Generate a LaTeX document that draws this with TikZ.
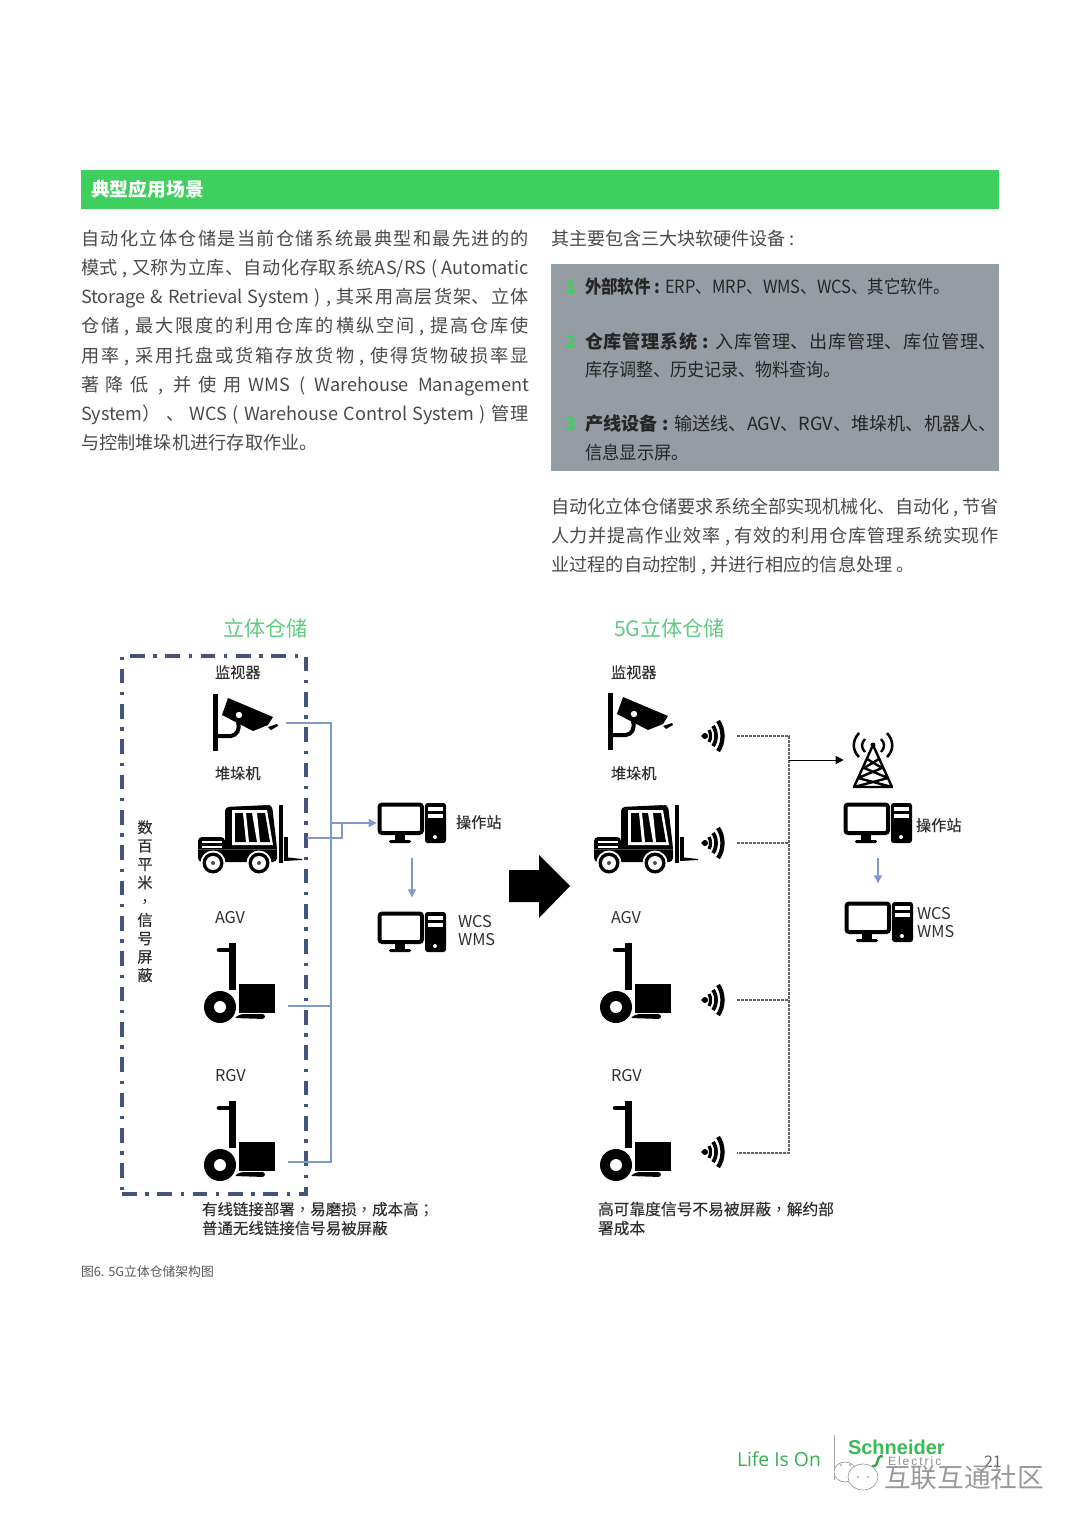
\documentclass[tikz,border=0pt]{standalone}
\usepackage{fontspec}
\usepackage{graphicx}
\usetikzlibrary{arrows.meta}
\setmainfont{Noto Sans CJK SC}
\newfontfamily\lsans{Liberation Sans}
\newfontfamily\osans{Open Sans}
\newfontfamily\tcf{Noto Sans CJK TC}
\newfontfamily\medf[FakeBold=0.25]{Noto Sans CJK SC}
\definecolor{segreen}{HTML}{3ECF5E}
\definecolor{ttlgreen}{HTML}{62CC82}
\definecolor{boxgray}{HTML}{959CA3}
\definecolor{bodytxt}{HTML}{4A4A4A}
\definecolor{lbltxt}{HTML}{303030}
\definecolor{navyd}{HTML}{44547F}
\definecolor{wireblue}{HTML}{7F9ACA}
\XeTeXlinebreaklocale "zh"
\XeTeXlinebreakskip=0pt plus 2pt minus .4pt
\tolerance=9999 \hbadness=10000 \hfuzz=5pt \hyphenpenalty=10000 \exhyphenpenalty=10000
\newlength{\jlw}
\newsavebox{\jlbox}
\newcommand{\jl}[2]{\setlength{\jlw}{#1\dimexpr.75pt\relax}\sbox{\jlbox}{#2}%
 \ifdim\wd\jlbox>\jlw\resizebox{\jlw}{\height}{\usebox{\jlbox}}\else\parbox[t]{\jlw}{\parindent0pt\parfillskip0pt\leavevmode #2}\fi}
\tikzset{
 x=.75pt,y=-.75pt,
 txt/.style={anchor=base west,inner sep=0pt,outer sep=0pt},
 bodyt/.style={txt,text=bodytxt,font=\fontsize{13.6pt}{16pt}\selectfont},
 boxt/.style={txt,text=black!85,font=\fontsize{13.6pt}{16pt}\selectfont},
 numt/.style={txt,text=segreen,font=\fontsize{13.6pt}{16pt}\selectfont\bfseries},
 lbl/.style={txt,text=lbltxt,font=\medf\fontsize{11.4pt}{13pt}\selectfont},
 lat/.style={txt,text=lbltxt,font=\fontsize{12.2pt}{13pt}\selectfont},
 note/.style={txt,text=lbltxt,font=\medf\fontsize{11.6pt}{13pt}\selectfont},
 ttl/.style={txt,text=ttlgreen,font=\fontsize{15.9pt}{18pt}\selectfont},
 iconbox/.style={inner sep=0pt,outer sep=0pt,minimum width=#1},
 wire/.style={wireblue,line width=.8pt},
 dashw/.style={black!60,line width=.8pt,dash pattern=on 2pt off 1pt},
 tipb/.style={-{Triangle[length=6pt,width=6pt]}},
 camicon/.pic={
  \fill[black] (0,0) rectangle (5,57);
  \draw[black,line width=3pt] (3,42) -- (18,42) .. controls (24,41) and (27,36) .. (25,28);
  \fill[black] (15,4) -- (60,23) -- (55,31) -- (40,37) -- (9,21) -- cycle;
  \fill[white] (26,21) circle (3.2);
  \fill[black] (55,33) -- (64,30) -- (65,32) -- (58,36) -- cycle;
 },
 truckicon/.pic={
  \fill[black,rounded corners=3pt] (27,42) -- (27,8) -- (70,0) -- (74,0) -- (79,43) -- (79,57) -- (0,57) -- (0,32) -- (27,32) -- cycle;
  \fill[black,rounded corners=3pt] (27,45) -- (27,2) -- (71,0) -- (78,45) -- cycle;
  \fill[white] (34,5) -- (69,5) -- (75,40) -- (34,40) -- cycle;
  \fill[black] (37,8) -- (67,8) -- (72,37) -- (37,37) -- cycle;
  \fill[white] (45,8) -- (48,8) -- (51,37) -- (48,37) -- cycle;
  \fill[white] (54,8) -- (59,8) -- (62,37) -- (59,37) -- cycle;
  \fill[white] (4,36) rectangle (24,37.5);
  \fill[white] (4,41) rectangle (24,42.5);
  \fill[black!70] (0,44) rectangle (79,45);
  \foreach \wx in {15,61}{
   \fill[white] (\wx,58) circle (12.5);
   \fill[black] (\wx,58) circle (10.5);
   \fill[white] (\wx,58) circle (7);
   \fill[black!70] (\wx,58) circle (2);
  }
  \fill[black] (81,0) rectangle (85,58);
  \fill[black] (86,32) rectangle (90,53);
  \fill[black] (86,52) -- (104,54) -- (104,55) -- (86,56) -- cycle;
 },
 carticon/.pic={
  \fill[black] (12,0) rectangle (19,47);
  \draw[black,line width=3.4pt,line cap=round] (2,7) -- (14,7);
  \fill[black] (3,64) circle (16);
  \fill[white] (3,64) circle (6);
  \fill[black] (22,41) rectangle (58,70);
  \fill[black,rounded corners=2pt] (17,75) -- (24,71) -- (48,71) -- (48,76) -- cycle;
 },
 pcicon/.pic={
  \draw[black,line width=3pt,rounded corners=2pt] (1.5,1.5) rectangle (44,30);
  \fill[black] (17,31) rectangle (27,37);
  \fill[black,rounded corners=1pt] (11,37) rectangle (33,40);
  \fill[black,rounded corners=2pt] (47,0) rectangle (68,40);
  \fill[white] (50,4) rectangle (65,7.5);
  \fill[white] (50,11) rectangle (65,14.5);
  \fill[white] (57,34) circle (2);
 },
 wifiicon/.pic={
  \fill[black] (-1,0) circle (3) ;
  \fill[black] (-5,0) -- (-1,-3) -- (-1,3) -- cycle;
  \draw[black,line width=2.4pt] (3,-6) .. controls (5,-3) and (5,3) .. (3,6);
  \draw[black,line width=2.8pt] (7,-10) .. controls (11,-5) and (11,5) .. (7,10);
  \draw[black,line width=3.2pt] (12,-15) .. controls (18,-7) and (18,7) .. (12,15);
 },
 towericon/.pic={
  \fill[black] (0,0) circle (2.5);
  \draw[black,line width=1.8pt,line join=round]
    (0,0) -- (-19,42) -- (19,42) -- (0,0)
    (-6,14) -- (9,23) -- (-15,33) (6,14) -- (-9,23) -- (15,33)
    (-15,33) -- (19,42) (15,33) -- (-19,42);
  \draw[black,line width=1.8pt] (-8,-6) .. controls (-12,-2) and (-12,3) .. (-8,7)
    (8,-6) .. controls (12,-2) and (12,3) .. (8,7);
  \draw[black,line width=1.9pt] (-14,-12) .. controls (-21,-4) and (-21,5) .. (-14,12)
    (14,-12) .. controls (21,-4) and (21,5) .. (14,12);
 },
}
\begin{document}
\begin{tikzpicture}
\useasboundingbox[fill=white] (0,0) rectangle (1080,1526);
% header
\node[fill=segreen,draw=none,inner sep=0pt,outer sep=0pt,minimum width=688.5pt,minimum height=29.25pt,anchor=north west] (hdr) at (81,170) {};
\node[txt,text=white,font=\fontsize{14.1pt}{16pt}\selectfont\bfseries] (hdrt) at (91,197) {典型应用场景};
% left column
\node[bodyt] (l1) at (81,246) {\jl{448}{自动化立体仓储是当前仓储系统最典型和最先进的的}};
\node[bodyt] (l2) at (81,275) {\jl{448}{模式 , 又称为立库、自动化存取系统AS/RS ( Automatic}};
\node[bodyt] (l3) at (81,304) {\jl{448}{Storage \& Retrieval System ) , 其采用高层货架、立体}};
\node[bodyt] (l4) at (81,333) {\jl{448}{仓储 , 最大限度的利用仓库的横纵空间 , 提高仓库使}};
\node[bodyt] (l5) at (81,362) {\jl{448}{用率 , 采用托盘或货箱存放货物 , 使得货物破损率显}};
\node[bodyt] (l6) at (81,391) {\jl{448}{著降低 , 并使用WMS ( Warehouse Management}};
\node[bodyt] (l7) at (81,420) {\jl{448}{System） 、 WCS ( Warehouse Control System ) 管理}};
\node[bodyt] (l8) at (81,449) {\jl{237}{与控制堆垛机进行存取作业。}};
% right column
\node[bodyt] (r0) at (551,246) {\jl{244}{其主要包含三大块软硬件设备 :}};
\node[fill=boxgray,inner sep=0pt,outer sep=0pt,minimum width=336pt,minimum height=155.25pt,anchor=north west] (gbox) at (551,264) {};
\node[numt] (n1) at (565,294) {1};
\node[boxt] (b1) at (585,294) {\jl{365}{\textbf{外部软件 :} ERP、MRP、WMS、WCS、其它软件。}};
\node[numt] (n2) at (565,348) {2};
\node[boxt] (b2) at (585,348) {\jl{412}{\textbf{仓库管理系统 :} 入库管理、出库管理、库位管理、}};
\node[boxt] (b3) at (585,377) {\jl{256}{库存调整、历史记录、物料查询。}};
\node[numt] (n3) at (565,430) {3};
\node[boxt] (b4) at (585,430) {\jl{412}{\textbf{产线设备 :} 输送线、AGV、RGV、堆垛机、机器人、}};
\node[boxt] (b5) at (585,459) {\jl{104}{信息显示屏。}};
\node[bodyt] (r1) at (551,513) {\jl{448}{自动化立体仓储要求系统全部实现机械化、自动化 , 节省}};
\node[bodyt] (r2) at (551,542) {\jl{448}{人力并提高作业效率 , 有效的利用仓库管理系统实现作}};
\node[bodyt] (r3) at (551,571) {\jl{364}{业过程的自动控制 , 并进行相应的信息处理 。}};
% titles
\node[ttl] (t1) at (223,636) {立体仓储};
\node[ttl] (t2) at (614,636) {5G立体仓储};
% dashed frame
\node[draw=navyd,line width=2.8pt,dash pattern=on 11pt off 6.5pt on 2.5pt off 6.5pt,inner sep=0pt,outer sep=0pt,anchor=north west,minimum width=138pt,minimum height=403.5pt] (frame) at (122,656) {};
% left icons
\pic (lcam) at (213,694) {camicon};
\pic (ltruck) at (198,805) {truckicon};
\pic (lagv) at (217,943) {carticon};
\pic (lrgv) at (217,1101) {carticon};
\node[iconbox=51pt,minimum height=30pt] (pc1) at (412,823) {};
\pic (pca) at (378,803) {pcicon};
\node[iconbox=51pt,minimum height=30pt] (pc2) at (412,932) {};
\pic (pcb) at (378,912) {pcicon};
% left labels
\node[lbl] (a1) at (215,678) {监视器};
\node[lbl] (a2) at (215,779) {堆垛机};
\node[lat] (a3) at (215,923) {AGV};
\node[lat] (a4) at (215,1081) {RGV};
\node[lbl] (a5) at (456,828) {操作站};
\node[lat] (a6) at (458,927) {WCS};
\node[lat] (a7) at (458,945) {WMS};
\node[anchor=north,inner sep=0pt,text=lbltxt,font=\medf\fontsize{11.4pt}{13.8pt}\selectfont,align=center] (vert) at (145,820) {数\\百\\平\\米\\[1pt]{\tcf ，}\\[-.5pt]信\\号\\屏\\蔽};
\node[note] (nl1) at (202,1215) {有线链接部署{\tcf ，}易磨损{\tcf ，}成本高{\tcf ；}};
\node[note] (nl2) at (202,1234) {普通无线链接信号易被屏蔽};
% left wires
\coordinate (camL) at (286,723);
\coordinate (busT) at (331,723);
\coordinate (busB) at (331,1162);
\coordinate (rgvL) at (288,1162);
\coordinate (agvL) at (288,1006);
\coordinate (agvB) at (331,1006);
\coordinate (trkL) at (307,838);
\coordinate (trkC) at (342,838);
\coordinate (trkT) at (342,823);
\coordinate (busM) at (331,823);
\draw[wire] (camL) -- (busT) -- (busB) -- (rgvL);
\draw[wire] (agvL) -- (agvB);
\draw[wire] (trkL) -- (trkC) -- (trkT);
\draw[wire,tipb] (busM) -- ([xshift=-1pt]pc1.west);
\draw[wire,tipb,shorten >=11pt,shorten <=11pt] (pc1.south) -- (pc2.north);
% big arrow
\node[inner sep=0pt] (bigarrow) at (539,886) {};
\fill[black] (509,870) -- (539,870) -- (539,855) -- (570,886) -- (539,918) -- (539,902) -- (509,902) -- cycle;
% right icons
\pic (rcam) at (608,693) {camicon};
\pic (rtruck) at (594,805) {truckicon};
\pic (ragv) at (613,943) {carticon};
\pic (rrgv) at (613,1101) {carticon};
\pic (w1) at (706,736) {wifiicon};
\pic (w2) at (706,843) {wifiicon};
\pic (w3) at (706,1000) {wifiicon};
\pic (w4) at (706,1152) {wifiicon};
\node[iconbox=30pt,minimum height=40pt] (tw) at (873,760) {};
\pic (twr) at (873,745) {towericon};
\node[iconbox=51pt,minimum height=30pt] (pc3) at (878,823) {};
\pic (pcc) at (844,803) {pcicon};
\node[iconbox=51pt,minimum height=30pt] (pc4) at (879,922) {};
\pic (pcd) at (845,902) {pcicon};
% right labels
\node[lbl] (c1) at (611,678) {监视器};
\node[lbl] (c2) at (611,779) {堆垛机};
\node[lat] (c3) at (611,923) {AGV};
\node[lat] (c4) at (611,1081) {RGV};
\node[lbl] (c5) at (916,831) {操作站};
\node[lat] (c6) at (917,919) {WCS};
\node[lat] (c7) at (917,937) {WMS};
\node[note,font=\medf\fontsize{11.8pt}{13pt}\selectfont] (nr1) at (598,1215) {高可靠度信号不易被屏蔽{\tcf ，}解约部};
\node[note,font=\medf\fontsize{11.8pt}{13pt}\selectfont] (nr2) at (598,1234) {署成本};
% right wires
\coordinate (d1) at (737,736);
\coordinate (d2) at (737,843);
\coordinate (d3) at (737,1000);
\coordinate (d4) at (737,1153);
\coordinate (e1) at (789,736);
\coordinate (e2) at (789,843);
\coordinate (e3) at (789,1000);
\coordinate (e4) at (789,1153);
\coordinate (e5) at (789,760);
\draw[dashw] (d1) -- (e1) -- (e4) -- (d4);
\draw[dashw] (d2) -- (e2);
\draw[dashw] (d3) -- (e3);
\draw[black,line width=.7pt,tipb,shorten >=7pt] (e5) -- (tw.west);
\draw[wire,tipb,shorten >=14pt,shorten <=11pt] (pc3.south) -- (pc3.south |- pc4.north);
% caption
\node[txt,text=black!65,font=\fontsize{9.6pt}{11pt}\selectfont] (cap) at (81,1276) {图6. 5G立体仓储架构图};
% footer
\node[txt,text=segreen!85!black,font=\osans\fontsize{14.5pt}{17pt}\selectfont] (life) at (737,1466) {Life Is On};
\draw[black!35,line width=.5pt] (834,1435) -- (834,1480);
\node[txt,text=segreen!90!black,font=\lsans\fontsize{15pt}{17pt}\selectfont\bfseries] (sch) at (848,1454) {Schneider};
\draw[segreen!80!black,line width=1.8pt] (872,1466) .. controls (881,1467) and (874,1456) .. (883,1456);
\node[txt,text=black!45,font=\lsans\fontsize{9pt}{10pt}\selectfont] (elec) at (888,1465) {E\,l\,e\,c\,t\,r\,i\,c};
\node[txt,text=black!60,font=\fontsize{12pt}{14pt}\selectfont] (pg) at (984,1467) {21};
\draw[black!40,line width=.5pt,fill=white] (845,1472) ellipse (11 and 10);
\draw[black!40,line width=.5pt,fill=white] (863,1477) ellipse (15 and 13);
\fill[black!40] (858,1477) circle (1) (868,1477) circle (1) (841,1465) circle (1) (850,1465) circle (1);
\node[txt,text=black!40,font=\fontsize{20pt}{22pt}\selectfont] (wm) at (884,1487) {互联互通社区};
\end{tikzpicture}
\end{document}
